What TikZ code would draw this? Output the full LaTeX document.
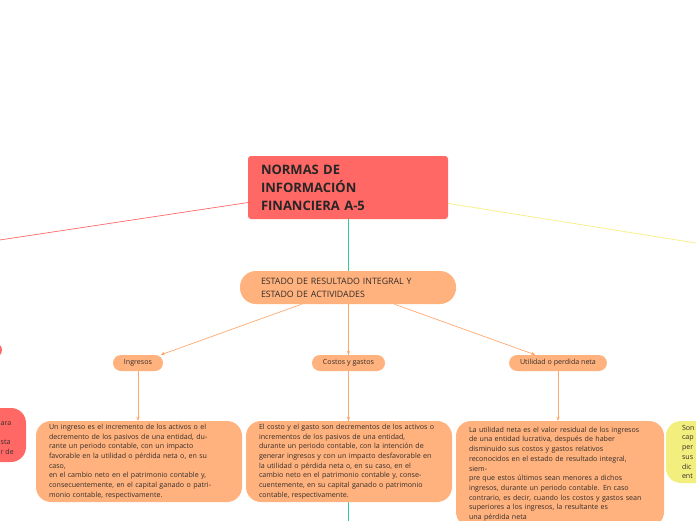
\documentclass[tikz,border=0pt]{standalone}
\usepackage{fontspec}
\setmainfont{Open Sans}
\usetikzlibrary{arrows.meta,backgrounds}

\definecolor{rootred}{HTML}{FF6865}
\definecolor{peach}{HTML}{FFB27D}
\definecolor{orangeline}{HTML}{FFA86E}
\definecolor{greenline}{HTML}{34CC92}
\definecolor{yellowline}{HTML}{F6EE80}
\definecolor{paleyellow}{HTML}{F3EF7F}
\definecolor{ink}{HTML}{332D2A}

\begin{document}
\begin{tikzpicture}[x=1pt, y=-1pt,
    font=\fontsize{7.1}{9.7}\selectfont,
    pill/.style={fill=peach, rounded corners=8pt, minimum height=16pt, inner xsep=11pt, inner ysep=0pt, text=ink},
    descbox/.style={fill=peach, rounded corners=15pt, text width=180pt, inner xsep=13pt, inner ysep=3pt, align=left, minimum height=81pt, text=ink},
    link/.style={draw=orangeline, line width=0.7pt, -{Stealth[length=4pt, width=3.5pt]}}
]
    \useasboundingbox (0,0) rectangle (696,520);

    % main topic
    \node[fill=rootred, rounded corners=3pt, text width=174pt, inner xsep=13pt, minimum height=63pt, align=left, text=black!85,
        font=\fontsize{13}{18}\selectfont\bfseries] (root) at (348,187.5) {NORMAS DE\\INFORMACIÓN\\FINANCIERA A-5};

    \node[fill=peach, rounded corners=16pt, text width=174pt, inner xsep=21pt, minimum height=33pt, align=left, text=ink,
        font=\fontsize{8.8}{13}\selectfont] (estado) at (348,287.5) {ESTADO DE RESULTADO INTEGRAL Y\\ESTADO DE ACTIVIDADES};

    \node[pill] (ingresos) at (138,363) {Ingresos};
    \node[pill] (costos) at (348.5,363) {Costos y gastos};
    \node[pill] (utilidad) at (558,363) {Utilidad o perdida neta};

    \node[descbox] (ingdesc) at (139,461.5) {Un ingreso es el incremento de los activos o el\\
        decremento de los pasivos de una entidad, du-\\
        rante un periodo contable, con un impacto\\
        favorable en la utilidad o pérdida neta o, en su\\
        caso,\\
        en el cambio neto en el patrimonio contable y,\\
        consecuentemente, en el capital ganado o patri-\\
        monio contable, respectivamente.};
    \node[descbox] (cosdesc) at (349,461.5) {El costo y el gasto son decrementos de los activos o\\
        incrementos de los pasivos de una entidad,\\
        durante un periodo contable, con la intención de\\
        generar ingresos y con un impacto desfavorable en\\
        la utilidad o pérdida neta o, en su caso, en el\\
        cambio neto en el patrimonio contable y, conse-\\
        cuentemente, en su capital ganado o patrimonio\\
        contable, respectivamente.};
    \node[descbox, minimum height=106pt, text width=182pt, inner ysep=4pt] (utidesc) at (560,474) {La utilidad neta es el valor residual de los ingresos\\
        de una entidad lucrativa, después de haber\\
        disminuido sus costos y gastos relativos\\
        reconocidos en el estado de resultado integral,\\
        siem-\\
        pre que estos últimos sean menores a dichos\\
        ingresos, durante un periodo contable. En caso\\
        contrario, es decir, cuando los costos y gastos sean\\
        superiores a los ingresos, la resultante es\\
        una pérdida neta};

    % neighbours cut off by the page edge
    \node[fill=rootred, rounded corners=7pt, minimum width=64pt, minimum height=14pt] (leftpill) at (-30,350) {};
    \node[fill=rootred, rounded corners=15pt, minimum width=206pt, minimum height=54pt] (leftdesc) at (-77,435) {};
    \node[anchor=north west, inner sep=0pt, align=left, text=ink] (lefttext) at (0.5,421) {ara\\\mbox{}\\sta\\r de};
    \node[descbox, fill=paleyellow, minimum height=62pt, inner xsep=16pt] (rightdesc) at (772,452) {Son\\cap\\per\\sus\\dic\\ent};

    \coordinate (leftmain) at (-150,262.6);
    \coordinate (rightmain) at (846,267);
    \coordinate (farbelow) at (348,560);

    \begin{scope}[on background layer]
        \draw[greenline, line width=0.7pt] (root) -- (farbelow);
        \draw[rootred, line width=0.7pt] (root) -- (leftmain);
        \draw[yellowline, line width=0.7pt] (root) -- (rightmain);
    \end{scope}

    \draw[link] (estado) -- (ingresos);
    \draw[link] (estado.south -| costos) -- (costos);
    \draw[link] (estado) -- (utilidad);

    \draw[link] (ingresos) -- (ingresos |- ingdesc.north);
    \draw[link] (costos) -- (costos |- cosdesc.north);
    \draw[link] (utilidad) -- (utilidad |- utidesc.north);
\end{tikzpicture}
\end{document}
